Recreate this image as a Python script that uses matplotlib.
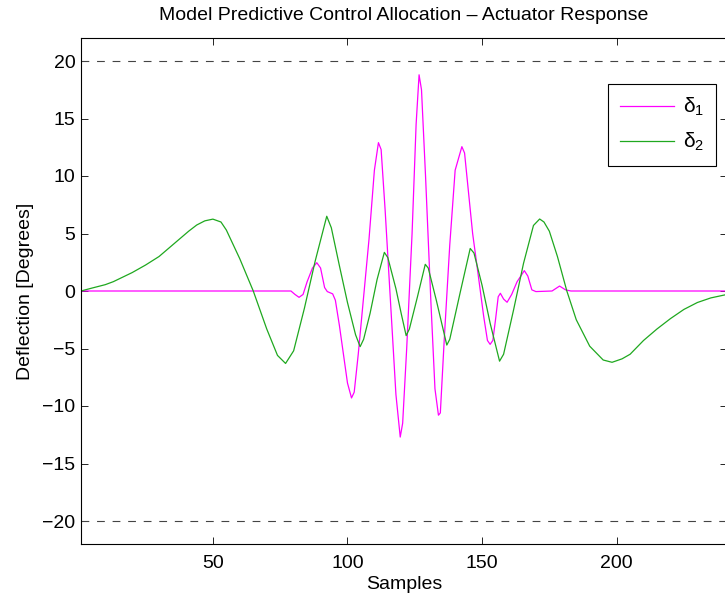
import numpy as np
import matplotlib
matplotlib.use('Agg')
import matplotlib.pyplot as plt

plt.rcParams['font.family'] = ['Liberation Sans', 'DejaVu Sans']
plt.rcParams['mathtext.fontset'] = 'custom'
plt.rcParams['mathtext.rm'] = 'Liberation Sans'
plt.rcParams['mathtext.it'] = 'Liberation Sans'

# values (sample index, degrees)
d1_samples = [1, 79, 80.5, 82, 83.5, 85, 87, 88.6, 90, 91.5, 92.5, 94.5, 95.5, 97, 98.5,
              100, 101.5, 102.5, 104, 106, 108, 110, 111.5, 112.5, 114, 116, 118, 119.6,
              120.5, 122, 124, 125.5, 126.6, 127.5, 129, 131, 132.5, 133.8, 134.5, 136,
              138, 140, 142.5, 143.5, 145, 146.5, 148, 150.6, 152, 153, 154, 155, 156,
              156.8, 158, 159.3, 161, 163, 165.7, 167, 168.5, 170, 176, 178.8, 181, 183, 241]
d1_values = [0, 0, -0.3, -0.55, -0.3, 0.8, 2.0, 2.46, 2.0, 0.3, -0.05, -0.25, -0.8, -3.0, -5.5,
             -8.0, -9.3, -8.8, -5.5, -0.5, 4.5, 10.5, 12.9, 12.3, 7.0, -1.0, -9.0, -12.7,
             -11.5, -5.0, 5.0, 14.5, 18.8, 17.5, 10.0, -1.0, -8.5, -10.8, -10.6, -4.0,
             4.0, 10.5, 12.55, 12.0, 8.5, 5.0, 2.4, -2.2, -4.3, -4.64, -4.3, -2.5, -0.5,
             -0.2, -0.7, -0.98, -0.3, 0.8, 1.77, 1.3, 0.1, -0.05, 0.0, 0.43, 0.1, 0.0, 0.0]

d2_samples = [1, 5, 10, 13, 20, 25, 30, 35, 38, 41, 44, 47, 50, 53, 55, 60, 65, 70, 74, 77,
              80, 84, 88, 92.3, 94, 97, 100, 103, 104.7, 106, 108.4, 111, 113.7, 115, 118,
              120, 121.8, 123, 126, 128.9, 130, 133, 135, 136.9, 138, 142, 145.6, 147, 150,
              153, 156.5, 158, 161.7, 165.4, 169.1, 171.4, 173, 175, 178, 181.5, 185, 190,
              195, 198.3, 202, 205, 210, 215, 220, 225, 230, 235, 241]
d2_values = [0, 0.25, 0.55, 0.81, 1.6, 2.26, 3.0, 4.0, 4.6, 5.2, 5.74, 6.1, 6.25, 6.0, 5.3,
             2.8, 0.0, -3.3, -5.6, -6.3, -5.2, -1.5, 2.6, 6.5, 5.5, 2.2, -1.0, -3.8, -4.84,
             -4.2, -1.94, 1.0, 3.36, 2.9, 0.2, -2.0, -3.88, -3.3, -0.5, 2.32, 2.0, -0.8, -2.8,
             -4.7, -4.2, 0.0, 3.7, 3.3, 0.5, -2.8, -6.1, -5.5, -1.65, 2.4, 5.7, 6.26, 6.0,
             5.2, 3.0, 0.0, -2.5, -4.8, -6.0, -6.2, -5.9, -5.5, -4.3, -3.3, -2.4, -1.6,
             -1.0, -0.6, -0.3]

limit = 20
xticks = [50, 100, 150, 200]
yticks = [-20, -15, -10, -5, 0, 5, 10, 15, 20]

fig = plt.figure(figsize=(7.25, 6), dpi=100)
ax = fig.add_axes([81 / 725, 56 / 600, 646 / 725, 506 / 600])

ax.plot(d1_samples, d1_values, color='#ff00ff', lw=0.9, label=r'$\delta_1$')
ax.plot(d2_samples, d2_values, color='#1fa81f', lw=0.9, label=r'$\delta_2$')

# actuator limits
for lvl in (limit, -limit):
    ln, = ax.plot([1, 241], [lvl, lvl], color='#444444', lw=0.8)
    ln.set_dashes((7, 7))

ax.set_xlim(1, 241)
ax.set_ylim(-22, 22)
ax.set_xticks(xticks)
ax.set_yticks(yticks)
ax.tick_params(direction='in', length=5, width=0.6, top=True, right=True, labelsize=14)
ax.tick_params(axis='x', pad=8)
ax.tick_params(axis='y', pad=4)
for sp in ax.spines.values():
    sp.set_linewidth(0.8)

ax.set_title('Model Predictive Control Allocation \u2013 Actuator Response', fontsize=14, pad=13)
ax.set_xlabel('Samples', fontsize=14, labelpad=3)
ax.set_ylabel('Deflection [Degrees]', fontsize=14, labelpad=6)

leg = ax.legend(loc='upper right', bbox_to_anchor=(0.983, 0.91), borderaxespad=0,
                fancybox=False, framealpha=1, edgecolor='black', fontsize=15,
                handlelength=2.6, handletextpad=0.4, labelspacing=0.6, borderpad=0.6)
leg.get_frame().set_linewidth(0.8)

fig.savefig('out.png', dpi=100)
